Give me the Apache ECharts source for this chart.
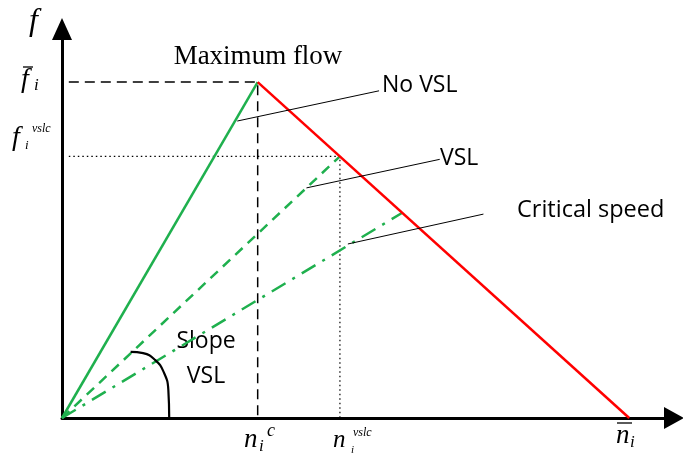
<!DOCTYPE html>
<html>
<head>
<meta charset="utf-8">
<script src="https://cdn.jsdelivr.net/npm/echarts@6/dist/echarts.min.js"></script>
<style>html,body{margin:0;padding:0;background:#fff}#c{width:683px;height:459px}</style>
</head>
<body>
<div id="c"></div>
<script>
// density (x) and flow (y) in relative units
const noVslLine = [[0, 0], [34.5, 100]];
const vslLine = [[0, 0], [49, 77.9]];
const criticalLine = [[0, 0], [60, 61.1]];
const congestedLine = [[34.5, 100], [100, 0]];
const maxFlowGuide = [[1.2, 100], [34.5, 100], [34.5, 0]];
const vslGuide = [[1.2, 77.9], [49, 77.9], [49, 0]];
const noVslLeader = [[30.9, 88.4], [55.9, 97.4]];
const vslLeader = [[43.1, 68.5], [66.6, 77.0]];
const criticalLeader = [[50.4, 51.8], [74.3, 60.7]];
const slopeArc = [[12.1, 19.7], [14.3, 19.3], [16.4, 17.3], [17.9, 13.8], [18.75, 8.3], [18.9, 0]];

const GREEN = '#1fb04e', RED = '#ff0000';
const serif = '"Liberation Serif", "Times New Roman", serif';
const sans = '"Open Sans", "Liberation Sans", sans-serif';

function seg(data, color, width, type, z) {
  return { type: 'line', data: data, symbol: 'none', silent: true, z: z || 2,
    lineStyle: { color: color, width: width, type: type || 'solid' } };
}
function txt(x, y, s, font, align) {
  return { type: 'text', x: x, y: y, style: { text: s, font: font, fill: '#000',
    textAlign: align || 'left', textVerticalAlign: 'middle' } };
}
function bar(x1, x2, y) {
  return { type: 'line', shape: { x1: x1, y1: y, x2: x2, y2: y }, style: { stroke: '#000', lineWidth: 1.3 } };
}

const chart = echarts.init(document.getElementById('c'));
chart.setOption({
  animation: false,
  grid: { left: 62, right: 9, top: 29, bottom: 41 },
  xAxis: { type: 'value', min: 0, max: 107.9,
    axisLine: { lineStyle: { color: '#000', width: 3 }, symbol: ['none', 'triangle'], symbolSize: [22, 20] },
    axisTick: { show: false }, axisLabel: { show: false }, splitLine: { show: false } },
  yAxis: { type: 'value', min: 0, max: 115.8,
    axisLine: { lineStyle: { color: '#000', width: 3 }, symbol: ['none', 'triangle'], symbolSize: [20, 22] },
    axisTick: { show: false }, axisLabel: { show: false }, splitLine: { show: false } },
  series: [
    seg(maxFlowGuide, '#000', 1.5, [10, 6], 1),
    seg(vslGuide, '#000', 1.2, [1.5, 3], 1),
    seg(noVslLine, GREEN, 2.5),
    seg(vslLine, GREEN, 2.5, [10, 7]),
    seg(criticalLine, GREEN, 2.5, [16, 8, 3, 8]),
    seg(congestedLine, RED, 2.5, 'solid', 3),
    seg(noVslLeader, '#000', 1, 'solid', 4),
    seg(vslLeader, '#000', 1, 'solid', 4),
    seg(criticalLeader, '#000', 1, 'solid', 4),
    Object.assign(seg(slopeArc, '#000', 2.2, 'solid', 4), { smooth: true })
  ],
  graphic: [
    txt(258, 57, 'Maximum flow', '27px ' + serif, 'center'),
    txt(382, 85, 'No VSL', '23px ' + sans),
    txt(440, 158, 'VSL', '23px ' + sans),
    txt(517, 210, 'Critical speed', '23.5px ' + sans),
    txt(206, 341, 'Slope', '23px ' + sans, 'center'),
    txt(206, 376, 'VSL', '23px ' + sans, 'center'),
    // y labels
    txt(29, 22, 'f', 'italic 32px ' + serif),
    txt(21, 80, 'f', 'italic 28px ' + serif),
    txt(34, 86, 'i', 'italic 17px ' + serif),
    bar(23, 33, 67),
    txt(12, 138, 'f', 'italic 28px ' + serif),
    txt(32, 129, 'vslc', 'italic 12px ' + serif),
    txt(25, 146, 'i', 'italic 13px ' + serif),
    // x labels
    txt(244, 440, 'n', 'italic 27px ' + serif),
    txt(259, 447, 'i', 'italic 17px ' + serif),
    txt(267, 431, 'c', 'italic 18px ' + serif),
    txt(333, 440, 'n', 'italic 25px ' + serif),
    txt(351, 450, 'i', 'italic 11px ' + serif),
    txt(353, 433, 'vslc', 'italic 12px ' + serif),
    txt(616, 436, 'n', 'italic 27px ' + serif),
    txt(630, 443, 'i', 'italic 17px ' + serif),
    bar(617, 632, 423)
  ]
});
</script>
</body>
</html>
